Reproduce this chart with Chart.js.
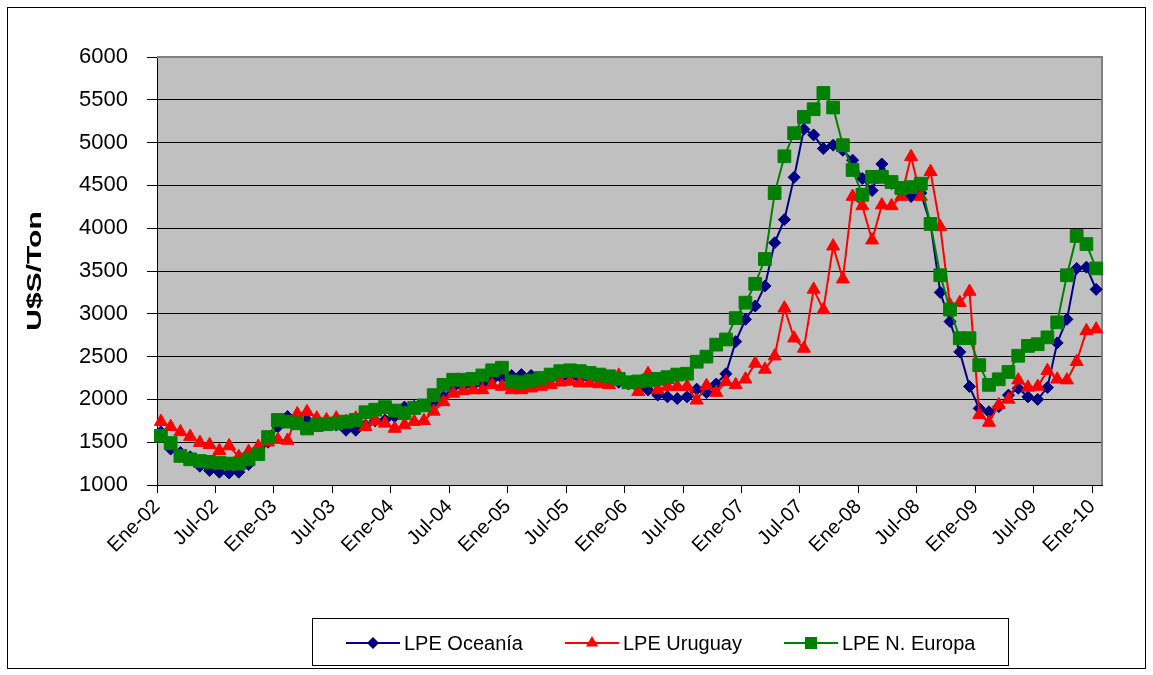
<!DOCTYPE html>
<html>
<head>
<meta charset="utf-8">
<script src="https://cdn.jsdelivr.net/npm/chart.js@4.4.1/dist/chart.umd.min.js"></script>
<style>
  html, body { margin: 0; padding: 0; background: #fff; }
  #wrap { width: 1153px; height: 675px; }
</style>
</head>
<body>
<div id="wrap"><canvas id="lpeChart" width="1153" height="675"></canvas></div>
<script>
// Axis labels, one every six months (Ene-02 ... Ene-10)
const tickLabels = ['Ene-02', 'Jul-02', 'Ene-03', 'Jul-03', 'Ene-04', 'Jul-04', 'Ene-05', 'Jul-05',
    'Ene-06', 'Jul-06', 'Ene-07', 'Jul-07', 'Ene-08', 'Jul-08', 'Ene-09', 'Jul-09', 'Ene-10'];
const seriesNames = ['LPE Oceanía', 'LPE Uruguay', 'LPE N. Europa'];

// Monthly prices U$S/Ton, Jan 2002 - Jan 2010
const oceania = [
    1620, 1420, 1380, 1330, 1220, 1170, 1150, 1140, 1150, 1240, 1350, 1500,
    1680, 1800, 1780, 1760, 1740, 1720, 1700, 1640, 1640, 1700, 1750, 1760,
    1800, 1910, 1920, 1930, 1960, 2030, 2140, 2150, 2160, 2180, 2230, 2250,
    2280, 2290, 2280, 2250, 2240, 2240, 2250, 2240, 2240, 2230, 2220, 2200,
    2180, 2150, 2110, 2050, 2030, 2010, 2030, 2120, 2080, 2180, 2300, 2675,
    2935, 3090, 3325, 3830, 4100, 4595, 5155, 5090, 4930, 4970, 4910, 4795,
    4580, 4440, 4750, 4520, 4420, 4370, 4410, 4050, 3250, 2910, 2555, 2150,
    1895, 1855, 1915, 2050, 2130, 2030, 2000, 2140, 2660, 2935, 3530, 3545,
    3285
];
const uruguay = [
    1740, 1680, 1620, 1565, 1495, 1470, 1400, 1455, 1330, 1390, 1450, 1500,
    1530, 1520, 1830, 1855, 1780, 1760, 1780, 1740, 1780, 1680, 1750, 1720,
    1660, 1700, 1740, 1750, 1860, 1970, 2070, 2100, 2110, 2110, 2170, 2150,
    2110, 2110, 2130, 2150, 2170, 2200, 2210, 2190, 2190, 2180, 2170, 2280,
    2170, 2090, 2300, 2110, 2150, 2150, 2150, 1990, 2160, 2080, 2205, 2170,
    2235, 2420, 2350, 2505, 3065, 2715, 2595, 3285, 3045, 3790, 3405, 4370,
    4260, 3860, 4270, 4260, 4370, 4835, 4370, 4660, 4015, 3100, 3130, 3260,
    1820, 1730, 1935, 2000, 2225, 2140, 2150, 2335, 2235, 2225, 2440, 2800,
    2820
];
const nEuropa = [
    1575, 1490, 1340, 1300, 1280, 1270, 1260, 1250, 1250, 1300, 1360, 1560,
    1760, 1740, 1720, 1660, 1700, 1710, 1720, 1740, 1760, 1850, 1880, 1910,
    1870, 1840, 1900, 1930, 2050, 2170, 2230, 2230, 2240, 2280, 2340, 2370,
    2210, 2200, 2220, 2250, 2290, 2330, 2340, 2330, 2310, 2290, 2270, 2240,
    2200, 2210, 2220, 2240, 2260, 2290, 2300, 2440, 2500, 2640, 2700, 2950,
    3130, 3350, 3640, 4410, 4840, 5110, 5300, 5390, 5580, 5410, 4970, 4680,
    4390, 4600, 4600, 4540, 4470, 4480, 4520, 4050, 3450, 3050, 2715, 2715,
    2400, 2170, 2235, 2320, 2510, 2625, 2645, 2725, 2900, 3450, 3910, 3815,
    3530
];

// prices are plotted a little after the 1st of each month on the date axis
const monthOffset = 0.4;
function toPoints(values) {
    return values.map((v, i) => ({ x: i + monthOffset, y: v }));
}

const FONT = 'Arial, "Liberation Sans", sans-serif';

// Gray plot area, frames, rotated axis title and Excel-like legend
const excelFrame = {
    id: 'excelFrame',
    beforeDraw(chart) {
        const ctx = chart.ctx;
        const a = chart.chartArea;
        ctx.save();
        ctx.fillStyle = '#fff';
        ctx.fillRect(0, 0, chart.width, chart.height);
        ctx.strokeStyle = '#000';
        ctx.lineWidth = 1;
        ctx.strokeRect(7.5, 7.5, 1138, 661);
        ctx.fillStyle = '#c0c0c0';
        ctx.fillRect(a.left, a.top, a.right - a.left, a.bottom - a.top);
        ctx.restore();
    },
    beforeDatasetsDraw(chart) {
        const ctx = chart.ctx;
        const a = chart.chartArea;
        ctx.save();
        ctx.strokeStyle = '#808080';
        ctx.lineWidth = 2;
        ctx.beginPath();
        ctx.moveTo(a.left, a.top);
        ctx.lineTo(a.right, a.top);
        ctx.lineTo(a.right, a.bottom);
        ctx.stroke();
        ctx.restore();
    },
    afterDraw(chart) {
        const ctx = chart.ctx;
        ctx.save();
        // y axis title
        ctx.translate(35, 271);
        ctx.rotate(-Math.PI / 2);
        ctx.scale(1.5, 1);
        ctx.font = 'bold 20px ' + FONT;
        ctx.fillStyle = '#000';
        ctx.textAlign = 'center';
        ctx.textBaseline = 'middle';
        ctx.fillText('U$S/Ton', 0, 0);
        ctx.restore();

        // legend
        ctx.save();
        ctx.strokeStyle = '#000';
        ctx.lineWidth = 1;
        ctx.strokeRect(312.5, 618.5, 696, 47);
        const slots = [346, 565, 784];
        const y = 643;
        chart.data.datasets.forEach(function(ds, i) {
            const x0 = slots[i];
            const x1 = x0 + 54;
            ctx.strokeStyle = ds.borderColor;
            ctx.lineWidth = 2;
            ctx.beginPath();
            ctx.moveTo(x0, y);
            ctx.lineTo(x1, y);
            ctx.stroke();
            drawMarker(ctx, ds.pointStyle, (x0 + x1) / 2, y, ds.borderColor);
            ctx.fillStyle = '#000';
            ctx.font = '20px ' + FONT;
            ctx.textAlign = 'left';
            ctx.textBaseline = 'middle';
            ctx.fillText(ds.label, x1 + 4, y + 1);
        });
        ctx.restore();
    }
};

function drawMarker(ctx, style, x, y, color) {
    ctx.fillStyle = color;
    ctx.beginPath();
    if (style === 'rectRot') {
        const r = 6;
        ctx.moveTo(x, y - r);
        ctx.lineTo(x + r, y);
        ctx.lineTo(x, y + r);
        ctx.lineTo(x - r, y);
    } else if (style === 'triangle') {
        const r = 7;
        ctx.moveTo(x, y - r);
        ctx.lineTo(x + r * 0.866, y + r / 2);
        ctx.lineTo(x - r * 0.866, y + r / 2);
    } else {
        const s = 6;
        ctx.rect(x - s, y - s, 2 * s, 2 * s);
    }
    ctx.closePath();
    ctx.fill();
}

function lineSeries(label, values, color, style, radius, order) {
    return {
        label: label,
        data: toPoints(values),
        borderColor: color,
        backgroundColor: color,
        borderWidth: 2,
        pointStyle: style,
        pointRadius: radius,
        pointBackgroundColor: color,
        pointBorderColor: color,
        pointBorderWidth: 1,
        tension: 0,
        clip: false,
        order: order
    };
}

new Chart(document.getElementById('lpeChart').getContext('2d'), {
    type: 'line',
    data: {
        datasets: [
            lineSeries(seriesNames[0], oceania, '#000080', 'rectRot', 6, 3),
            lineSeries(seriesNames[1], uruguay, '#ff0000', 'triangle', 7.5, 2),
            lineSeries(seriesNames[2], nEuropa, '#008000', 'rect', 9, 1)
        ]
    },
    options: {
        responsive: false,
        animation: false,
        layout: { padding: { left: 10, top: 57, right: 51, bottom: 0 } },
        plugins: {
            legend: { display: false },
            tooltip: { enabled: false }
        },
        scales: {
            x: {
                type: 'linear',
                min: 0,
                max: 97,
                afterBuildTicks: function(axis) {
                    axis.ticks = tickLabels.map((_, k) => ({ value: k * 6 }));
                },
                afterFit: function(scale) { scale.height = 190; },
                ticks: {
                    autoSkip: false,
                    minRotation: 45,
                    maxRotation: 45,
                    padding: 2,
                    color: '#000',
                    font: { family: FONT, size: 20 },
                    callback: (value, index) => tickLabels[index]
                },
                grid: { drawOnChartArea: false, tickLength: 8, color: '#000' },
                border: { color: '#000', width: 1 }
            },
            y: {
                min: 1000,
                max: 6000,
                afterFit: function(scale) { scale.width = 147; },
                ticks: {
                    stepSize: 500,
                    padding: 19,
                    color: '#000',
                    font: { family: FONT, size: 22 },
                    callback: (value) => String(value)
                },
                grid: { color: '#000', lineWidth: 1, tickLength: 10 },
                border: { color: '#000', width: 1 }
            }
        }
    },
    plugins: [excelFrame]
});
</script>
</body>
</html>
